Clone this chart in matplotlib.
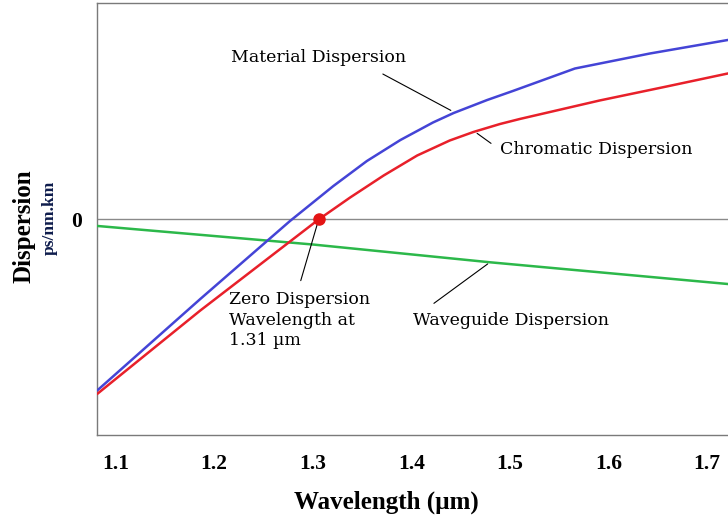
import matplotlib
matplotlib.use("Agg")
import matplotlib.pyplot as plt

# curves (wavelength in um, dispersion in arbitrary ps/nm.km units)
material_wl = [1.082, 1.186, 1.277, 1.321, 1.355, 1.389, 1.422, 1.443, 1.477, 1.503, 1.566, 1.642, 1.721]
material_d = [-17.05, -7.95, -0.15, 3.35, 5.85, 7.95, 9.7, 10.65, 11.95, 12.85, 15.1, 16.6, 17.95]

chromatic_wl = [1.082, 1.186, 1.306, 1.338, 1.372, 1.406, 1.439, 1.463, 1.490, 1.510, 1.591, 1.659, 1.721]
chromatic_d = [-17.4, -9.1, 0.0, 2.2, 4.4, 6.4, 7.9, 8.75, 9.55, 10.05, 11.9, 13.3, 14.6]

waveguide_wl = [1.082, 1.30, 1.48, 1.721]
waveguide_d = [-0.65, -2.5, -4.28, -6.45]

zero_wl = 1.306
xticks = [1.1, 1.2, 1.3, 1.4, 1.5, 1.6, 1.7]
xtick_labels = ["1.1", "1.2", "1.3", "1.4", "1.5", "1.6", "1.7"]

serif_b = dict(family="Liberation Serif", weight="bold")
note = dict(family="DejaVu Serif", fontsize=12.5, color="black")

fig = plt.figure(figsize=(7.28, 5.2), dpi=100)
ax = fig.add_axes([0.1339, 0.1635, 0.8661, 0.8307])

ax.axhline(0, color="#8a8a8a", lw=1.0, zorder=1)
ax.plot(waveguide_wl, waveguide_d, color="#2cb84a", lw=1.8, zorder=3)
ax.plot(material_wl, material_d, color="#4444d6", lw=1.8, zorder=3)
ax.plot(chromatic_wl, chromatic_d, color="#e8202a", lw=1.8, zorder=4)
ax.plot([zero_wl], [0], "o", color="#e41414", ms=8, zorder=5)

ax.set_xlim(1.0817, 1.7213)
ax.set_ylim(-21.55, 21.65)

ax.set_xticks(xticks)
ax.set_xticklabels(xtick_labels, fontdict=dict(fontsize=15.5, **serif_b))
ax.set_yticks([0])
ax.set_yticklabels(["0"], fontdict=dict(fontsize=15.5, **serif_b))
ax.tick_params(axis="x", length=0, pad=14)
ax.tick_params(axis="y", length=0, pad=11)

for side in ["left", "top", "bottom"]:
    ax.spines[side].set_color("#7a7a7a")
    ax.spines[side].set_linewidth(1.0)
ax.spines["right"].set_visible(False)

# annotations
line = dict(arrowstyle="-", color="black", lw=0.8)
ax.annotate("", xy=(1.4426, 10.78), xytext=(1.3687, 14.68), arrowprops=line)
ax.text(1.3064, 16.2, "Material Dispersion", ha="center", va="center", **note)

ax.annotate("", xy=(1.4645, 8.78), xytext=(1.4832, 7.45), arrowprops=line)
ax.text(1.490, 7.05, "Chromatic Dispersion", ha="left", va="center", **note)

ax.annotate("", xy=(1.4798, -4.28), xytext=(1.4207, -8.55), arrowprops=line)
ax.text(1.5011, -10.1, "Waveguide Dispersion", ha="center", va="center", **note)

ax.annotate("", xy=(1.3054, -0.22), xytext=(1.2871, -6.38), arrowprops=line)
ax.text(1.2151, -7.2, "Zero Dispersion\nWavelength at\n1.31 \u00b5m", ha="left", va="top",
        linespacing=1.25, **note)

# axis titles
fig.text(386 / 728, 1 - 502 / 520, "Wavelength (\u00b5m)", ha="center", va="center",
         fontsize=18, **serif_b)
fig.text(23.5 / 728, 1 - 226 / 520, "Dispersion", rotation=90, ha="center", va="center",
         fontsize=18, **serif_b)
fig.text(50 / 728, 1 - 217.5 / 520, "ps/nm.km", rotation=90, ha="center", va="center",
         fontsize=12.5, color="#0e1c4c", **serif_b)

fig.savefig("out.png", dpi=100)
